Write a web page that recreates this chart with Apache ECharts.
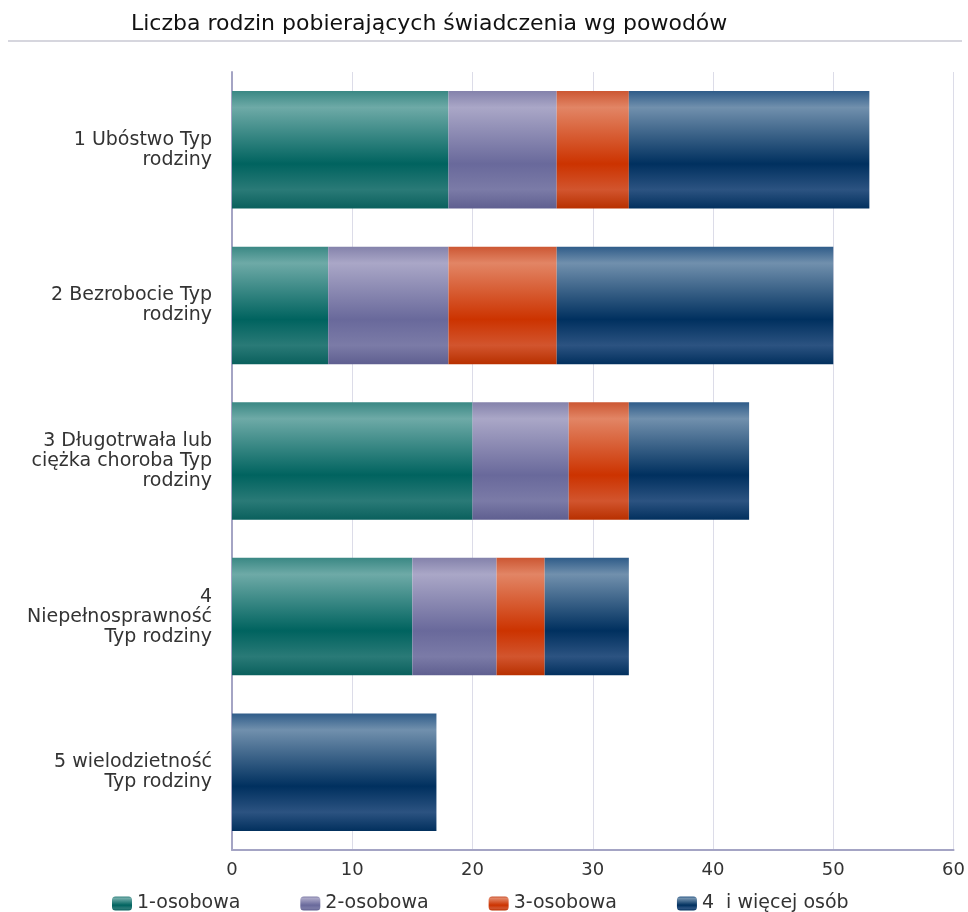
<!DOCTYPE html>
<html>
<head>
<meta charset="utf-8">
<script src="https://cdn.jsdelivr.net/npm/echarts@6/dist/echarts.min.js"></script>
<style>
html,body{margin:0;padding:0;background:#fff;}
#c{width:968px;height:912px;}
</style>
</head>
<body>
<div id="c"></div>
<script>
const categories = [
  "1 Ubóstwo Typ\nrodziny",
  "2 Bezrobocie Typ\nrodziny",
  "3 Długotrwała lub\nciężka choroba Typ\nrodziny",
  "4\nNiepełnosprawność\nTyp rodziny",
  "5 wielodzietność\nTyp rodziny"
];
const seriesNames = ["1-osobowa", "2-osobowa", "3-osobowa", "4  i więcej osób"];
const osob1 = [18, 8, 20, 15, 0];
const osob2 = [9, 10, 8, 7, 0];
const osob3 = [6, 9, 5, 4, 0];
const osob4 = [20, 23, 10, 7, 17];
const xTicks = [0, 10, 20, 30, 40, 50, 60];

const palettes = [
  ["#3a8884", "#6eaaa7", "#00635f", "#2a7a77", "#0a605d"],
  ["#8482ab", "#aaa7c7", "#69699b", "#7b7ba7", "#5f5f90"],
  ["#cc5733", "#e28565", "#cc3300", "#d2552e", "#b83000"],
  ["#2f5c89", "#7190ad", "#00305f", "#2c5381", "#02305e"]
];
function grad(p) {
  return new echarts.graphic.LinearGradient(0, 0, 0, 1, [
    {offset: 0, color: p[0]},
    {offset: 0.14, color: p[1]},
    {offset: 0.62, color: p[2]},
    {offset: 0.84, color: p[3]},
    {offset: 1, color: p[4]}
  ]);
}
const values = [osob1, osob2, osob3, osob4];

const chart = echarts.init(document.getElementById('c'));
chart.setOption({
  animation: false,
  backgroundColor: '#fff',
  title: {
    text: 'Liczba rodzin pobierających świadczenia wg powodów',
    left: 131, top: 13, padding: 0,
    textStyle: {fontFamily: 'DejaVu Sans', fontSize: 22, fontWeight: 'normal', color: '#111'}
  },
  graphic: [{
    type: 'rect', shape: {x: 8, y: 40, width: 954, height: 2},
    style: {fill: '#d6d6de'}
  }],
  legend: {
    top: 894, left: 112, padding: 0,
    itemWidth: 20, itemHeight: 14, itemGap: 60,
    textStyle: {fontFamily: 'DejaVu Sans', fontSize: 19, color: '#333'},
    data: seriesNames
  },
  grid: {left: 232, right: 9, top: 72, bottom: 62, containLabel: false},
  xAxis: {
    type: 'value', min: 0, max: 60, interval: 10,
    axisLine: {show: true, lineStyle: {color: '#a4a4c4', width: 2}},
    axisTick: {show: false},
    splitLine: {show: true, lineStyle: {color: '#dcdce8', width: 1}},
    axisLabel: {fontFamily: 'DejaVu Sans', fontSize: 18, color: '#333', margin: 11,
      formatter: v => xTicks.includes(v) ? String(v) : ''}
  },
  yAxis: {
    type: 'category', data: categories, inverse: true,
    axisLine: {show: true, lineStyle: {color: '#a4a4c4', width: 2}},
    axisTick: {show: false},
    axisLabel: {fontFamily: 'DejaVu Sans', fontSize: 19, color: '#333', margin: 20,
      lineHeight: 20, align: 'right'}
  },
  series: values.map((d, i) => ({
    name: seriesNames[i], type: 'bar', stack: 'total',
    data: d, barCategoryGap: '24.5%',
    itemStyle: {color: grad(palettes[i])}
  }))
});
</script>
</body>
</html>
